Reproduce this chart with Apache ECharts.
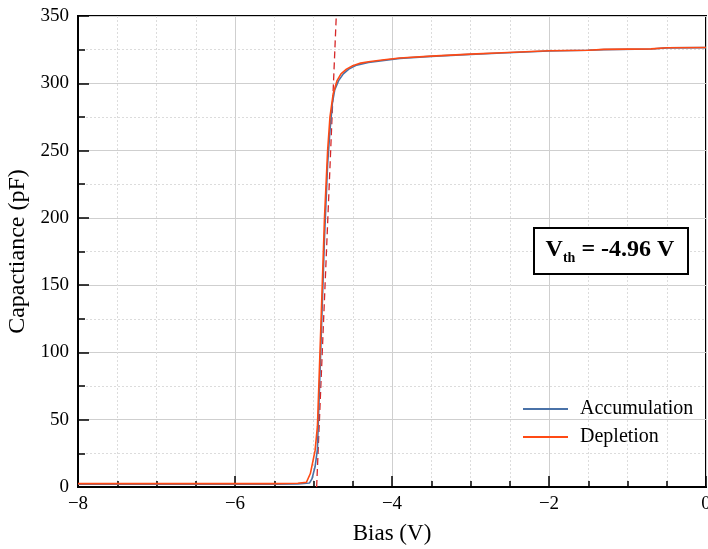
<!DOCTYPE html>
<html>
<head>
<meta charset="utf-8">
<script src="https://cdn.jsdelivr.net/npm/echarts@6/dist/echarts.min.js"></script>
<style>
html,body{margin:0;padding:0;background:#fff;}
#chart{width:708px;height:549px;}
</style>
</head>
<body>
<div id="chart"></div>
<script>
// Accumulation sweep
var accV = [-8, -7, -6, -5.5, -5.2, -5.05, -5.02, -4.98, -4.95, -4.9, -4.86, -4.82, -4.79, -4.76, -4.73, -4.68, -4.62, -4.55, -4.45, -4.3, -4.1, -3.9, -3.5, -3.0, -2.6, -2.0, -1.5, -1.3, -0.7, -0.5, 0];
var accC = [2, 2, 2, 2, 2.3, 3, 6, 15, 28, 115, 185, 240, 265, 285, 295, 302, 307, 310.5, 313.5, 315.5, 317, 318.5, 320, 321.5, 322.5, 324, 324.5, 325, 325.5, 326.3, 326.5];
// Depletion sweep
var depV = [-8, -7, -6, -5.5, -5.2, -5.09, -5.04, -4.98, -4.95, -4.9, -4.86, -4.82, -4.79, -4.75, -4.7, -4.65, -4.58, -4.5, -4.4, -4.3, -4.1, -3.9, -3.5, -3.0, -2.6, -2.0, -1.5, -1.3, -0.7, -0.5, 0];
var depC = [2.5, 2.5, 2.5, 2.5, 2.8, 3.5, 10, 27, 45, 130, 200, 250, 275, 292, 302, 307, 310.5, 313, 315, 316, 317.5, 318.8, 320.2, 321.7, 322.7, 324.2, 324.6, 325.2, 325.6, 326.4, 326.6];
// Threshold tangent line
var tangentV = [-4.96, -4.71];
var tangentC = [0, 350];

var xTicks = {min: -8, max: 0, step: 2};
var yTicks = {min: 0, max: 350, step: 50};

function pairs(a, b) { return a.map(function (v, i) { return [v, b[i]]; }); }

var FONT = 'Liberation Serif';
var chart = echarts.init(document.getElementById('chart'), null, {renderer: 'canvas'});
chart.setOption({
  animation: false,
  backgroundColor: '#fff',
  grid: {left: 78, right: 2, top: 16, bottom: 62, containLabel: false, outerBoundsMode: 'none',
    show: true, borderColor: '#000', borderWidth: 2, backgroundColor: 'transparent'},
  xAxis: {
    type: 'value', min: xTicks.min, max: xTicks.max, interval: xTicks.step,
    name: 'Bias (V)', nameLocation: 'middle', nameGap: 35,
    nameTextStyle: {fontFamily: FONT, fontSize: 23, color: '#000'},
    axisLine: {onZero: false, lineStyle: {color: '#000', width: 2}},
    axisTick: {inside: true, length: 11, lineStyle: {color: '#000', width: 1.5}},
    minorTick: {show: true, splitNumber: 4, length: 6, lineStyle: {color: '#000', width: 1.5}},
    splitLine: {show: true, lineStyle: {color: '#cfcfcf', width: 1}},
    minorSplitLine: {show: true, lineStyle: {color: '#dcdcdc', width: 1, type: [2, 2]}},
    axisLabel: {fontFamily: FONT, fontSize: 19, color: '#000', margin: 8,
      formatter: function (v) { return String(v).replace('-', '\u2212'); }}
  },
  yAxis: {
    type: 'value', min: yTicks.min, max: yTicks.max, interval: yTicks.step,
    name: 'Capactiance (pF)', nameLocation: 'middle', nameGap: 45,
    nameTextStyle: {fontFamily: FONT, fontSize: 24, color: '#000'},
    axisLine: {onZero: false, lineStyle: {color: '#000', width: 2}},
    axisTick: {inside: true, length: 11, lineStyle: {color: '#000', width: 1.5}},
    minorTick: {show: true, splitNumber: 2, length: 7, lineStyle: {color: '#000', width: 1.5}},
    splitLine: {show: true, lineStyle: {color: '#cfcfcf', width: 1}},
    minorSplitLine: {show: true, lineStyle: {color: '#dcdcdc', width: 1, type: [2, 2]}},
    axisLabel: {fontFamily: FONT, fontSize: 19, color: '#000', margin: 9}
  },
  legend: {
    orient: 'vertical', left: 518, top: 394, itemWidth: 45, itemHeight: 2, itemGap: 8,
    icon: 'rect',
    textStyle: {fontFamily: FONT, fontSize: 20, color: '#000', padding: [0, 0, 0, 7]},
    data: ['Accumulation', 'Depletion']
  },
  series: [
    {name: 'tangent', type: 'line', data: pairs(tangentV, tangentC), showSymbol: false, silent: true,
      lineStyle: {color: '#d62728', width: 1.3, type: [7, 4]}, z: 1},
    {name: 'Accumulation', type: 'line', data: pairs(accV, accC), showSymbol: false, color: '#4a72a8',
      lineStyle: {width: 1.6}, z: 2},
    {name: 'Depletion', type: 'line', data: pairs(depV, depC), showSymbol: false, color: '#ff4a14',
      lineStyle: {width: 1.6}, z: 3}
  ],
  graphic: [
    {type: 'rect', left: 533, top: 227, z: 100,
      shape: {width: 154, height: 46}, style: {fill: '#fff', stroke: '#000', lineWidth: 2}},
    {type: 'text', z: 101, x: 610, y: 250,
      style: {
        text: '{a|V}{b|th}{a| = -4.96 V}',
        align: 'center', verticalAlign: 'middle',
        rich: {
          a: {fontFamily: FONT, fontWeight: 'bold', fontSize: 24, fill: '#000', lineHeight: 30},
          b: {fontFamily: FONT, fontWeight: 'bold', fontSize: 14, fill: '#000', lineHeight: 14, verticalAlign: 'bottom'}
        }
      }}
  ]
});
</script>
</body>
</html>
